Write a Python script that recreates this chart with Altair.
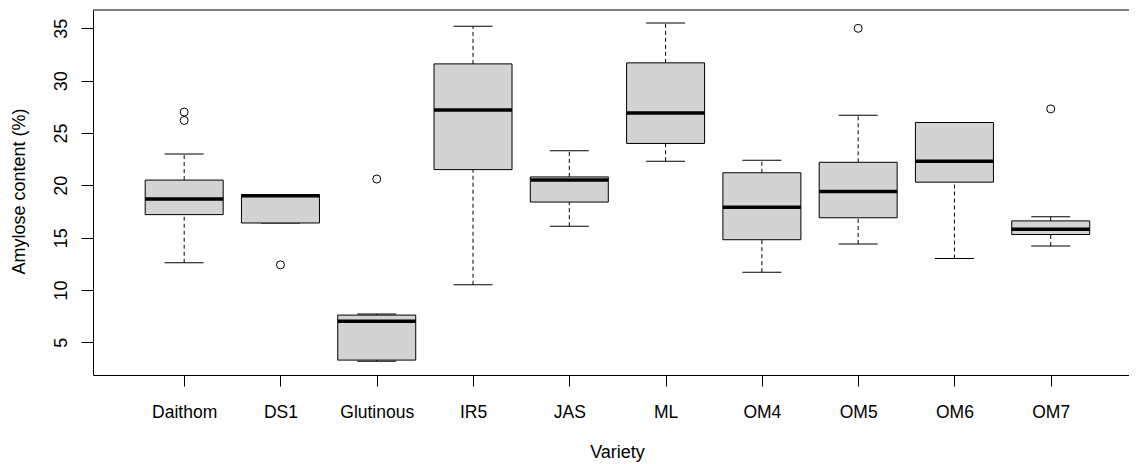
import altair as alt
import pandas as pd

# ---- data ----
varieties = ["Daithom", "DS1", "Glutinous", "IR5", "JAS", "ML", "OM4", "OM5", "OM6", "OM7"]
whisker_low = [12.6, 16.4, 3.2, 10.5, 16.1, 22.3, 11.7, 14.4, 13.0, 14.2]
q1 = [17.2, 16.4, 3.3, 21.5, 18.4, 24.0, 14.8, 16.9, 20.3, 15.3]
median = [18.7, 19.0, 7.0, 27.2, 20.5, 26.9, 17.9, 19.4, 22.3, 15.8]
q3 = [20.5, 19.1, 7.6, 31.6, 20.8, 31.7, 21.2, 22.2, 26.0, 16.6]
whisker_high = [23.0, 19.1, 7.7, 35.2, 23.3, 35.5, 22.4, 26.7, 26.0, 17.0]
outlier_variety = ["Daithom", "Daithom", "DS1", "Glutinous", "OM5", "OM7"]
outlier_value = [27.0, 26.2, 12.4, 20.6, 35.0, 27.3]
y_ticks = [5, 10, 15, 20, 25, 30, 35]

# ---- tables ----
idx = list(range(1, len(varieties) + 1))
box_df = pd.DataFrame({"idx": idx, "variety": varieties, "q1": q1,
                       "median": median, "q3": q3})
whisk_df = pd.concat([
    pd.DataFrame({"idx": idx, "a": q3, "b": whisker_high}),
    pd.DataFrame({"idx": idx, "a": whisker_low, "b": q1}),
])
cap_df = pd.DataFrame({"idx": idx + idx, "v": whisker_high + whisker_low})
out_df = pd.DataFrame({"idx": [varieties.index(v) + 1 for v in outlier_variety],
                       "v": outlier_value})

W, H = 1036, 365
x_scale = alt.Scale(domain=[0.105, 10.761], nice=False, zero=False)
y_scale = alt.Scale(domain=[1.876, 36.75], nice=False, zero=False)

label_expr = "[" + ",".join("'%s'" % v for v in varieties) + "][datum.value - 1]"

x_axis = alt.Axis(values=idx, labelExpr=label_expr, title="Variety", grid=False,
                  tickSize=11, tickColor="black", domainColor="black",
                  labelFontSize=17.5, labelColor="black", labelBaseline="alphabetic",
                  labelPadding=31, labelFlush=False, labelOverlap=False,
                  titleFontSize=18, titleFontWeight="normal", titleColor="black",
                  titleBaseline="alphabetic", titleX=524, titleY=82)
y_axis = alt.Axis(values=y_ticks, title="Amylose content (%)", grid=False,
                  tickSize=12, tickColor="black", domainColor="black",
                  labelFontSize=18, labelColor="black", labelAngle=270,
                  labelAlign="center", labelBaseline="alphabetic", labelPadding=15,
                  titleFontSize=18, titleFontWeight="normal", titleColor="black",
                  titleAngle=270, titleAlign="center", titleBaseline="alphabetic",
                  titleX=-69, titleY=181)

X = alt.X("idx:Q", scale=x_scale, axis=x_axis)

whiskers = alt.Chart(whisk_df).mark_rule(color="black", strokeDash=[4, 3], strokeWidth=1,
                                         opacity=1).encode(
    x=X, y=alt.Y("a:Q", scale=y_scale, axis=y_axis), y2="b:Q")
caps = alt.Chart(cap_df).mark_tick(orient="horizontal", size=39, thickness=1, color="black",
                                   opacity=1).encode(x="idx:Q", y="v:Q")
boxes = alt.Chart(box_df).mark_bar(size=78, fill="#D3D3D3", stroke="black", strokeWidth=1,
                                   opacity=1).encode(x="idx:Q", y="q1:Q", y2="q3:Q")
medians = alt.Chart(box_df).mark_tick(orient="horizontal", size=78, thickness=3.5, color="black",
                                      opacity=1).encode(x="idx:Q", y="median:Q")
outliers = alt.Chart(out_df).mark_point(shape="circle", filled=False, size=64, color="black",
                                        strokeWidth=1, opacity=1).encode(x="idx:Q", y="v:Q")
top = alt.Chart(alt.Data(values=[{}])).mark_rule(color="black", strokeWidth=1).encode(
    x=alt.value(0), x2=alt.value(W + 20), y=alt.value(0))

chart = alt.layer(whiskers, caps, boxes, medians, outliers, top).properties(
    width=W, height=H,
    autosize=alt.AutoSizeParams(type="none"),
    padding={"left": 85, "top": 2, "right": 0, "bottom": 88},
).configure(font="Liberation Sans").configure_view(stroke=None, strokeWidth=0)

chart.save("out.html", embed_options={"renderer": "svg", "actions": False})
